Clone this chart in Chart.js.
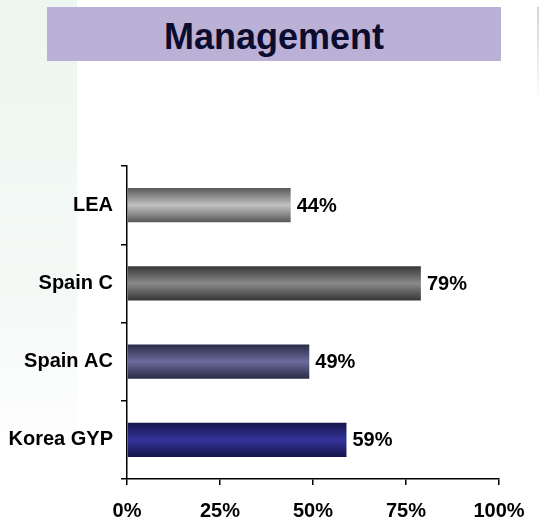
<!DOCTYPE html>
<html>
<head>
<meta charset="utf-8">
<script src="https://cdn.jsdelivr.net/npm/chart.js@4"></script>
<style>
  html, body { margin: 0; padding: 0; background: #fff; }
  #wrap { position: relative; width: 539px; height: 527px; overflow: hidden; }
  #strip { position: absolute; left: 0; top: 0; width: 77px; height: 527px;
    background: linear-gradient(#eef6f1, #f4f9f6 55%, #ffffff 88%); }
  #titleBox { position: absolute; left: 47px; top: 7px; width: 454px; height: 51px; padding-top: 3px;
    background: #bbb0d6; color: #0c0c2e; font: bold 36px "Liberation Sans", Arial, sans-serif;
    text-align: center; line-height: 54px; }
  #edge { position: absolute; left: 537px; top: 7px; width: 2px; height: 95px;
    background: linear-gradient(#d8d2cc, #ffffff); }
  canvas { position: absolute; left: 0; top: 0; }
</style>
</head>
<body>
<div id="wrap">
  <div id="strip"></div>
  <div id="titleBox">Management</div>
  <div id="edge"></div>
  <canvas id="chart" width="539" height="527"></canvas>
</div>
<script>
document.addEventListener("DOMContentLoaded", () => {
    // --- data ---
    const categories = ['LEA', 'Spain C', 'Spain AC', 'Korea GYP'];
    const values = [44, 79, 49, 59];
    const xTicks = [0, 25, 50, 75, 100];

    // gradient stops per bar: [edge, middle]
    const barShades = [
        ['#585858', '#c2c2c2'],
        ['#363636', '#8a8a8a'],
        ['#2a2a46', '#6a6a9c'],
        ['#14144a', '#34349a']
    ];
    const barPct = 0.44;
    const font = '"Liberation Sans", Arial, sans-serif';

    function barFill(ctx){
        const chart = ctx.chart;
        const y = chart.scales.y;
        const shade = barShades[ctx.dataIndex] || barShades[0];
        if (!y || ctx.type !== 'data') return shade[1];
        const mid = y.getPixelForValue(ctx.dataIndex);
        const half = (y.height / categories.length) * barPct / 2;
        if (!isFinite(mid) || !isFinite(half) || half <= 0) return shade[1];
        const g = chart.ctx.createLinearGradient(0, mid - half, 0, mid + half);
        g.addColorStop(0, shade[0]);
        g.addColorStop(0.5, shade[1]);
        g.addColorStop(1, shade[0]);
        return g;
    }

    // value labels at the end of each bar
    const valueLabels = {
        id: 'valueLabels',
        afterDatasetsDraw(chart){
            const c = chart.ctx;
            const meta = chart.getDatasetMeta(0);
            c.save();
            c.font = 'bold 20px ' + font;
            c.fillStyle = '#000';
            c.textAlign = 'left';
            c.textBaseline = 'middle';
            meta.data.forEach((bar, i) => {
                c.fillText(values[i] + '%', bar.x + 6, bar.y + 1);
            });
            c.restore();
        }
    };

    new Chart(document.getElementById('chart'), {
        type: 'bar',
        data: {
            labels: categories,
            datasets: [{
                data: values,
                backgroundColor: barFill,
                borderWidth: 0,
                categoryPercentage: 1,
                barPercentage: barPct
            }]
        },
        options: {
            indexAxis: 'y',
            responsive: false,
            animation: false,
            layout: { padding: { left: 0, right: 40, top: 166, bottom: 0 } },
            plugins: { legend: { display: false }, tooltip: { enabled: false } },
            scales: {
                x: {
                    min: 0, max: 100,
                    afterBuildTicks: s => { s.ticks = xTicks.map(v => ({ value: v })); },
                    afterFit: s => { s.height = 48; },
                    ticks: {
                        callback: v => v + '%',
                        color: '#000',
                        font: { family: font, size: 20, weight: 'bold' },
                        padding: 14,
                        maxRotation: 0
                    },
                    grid: { drawOnChartArea: false, drawTicks: true, tickLength: 6, color: '#000', lineWidth: 1.5 },
                    border: { display: true, color: '#000', width: 1.5 }
                },
                y: {
                    afterFit: s => { s.width = 127; },
                    ticks: {
                        color: '#000',
                        font: { family: font, size: 20, weight: 'bold' },
                        padding: 8
                    },
                    grid: { offset: true, drawOnChartArea: false, drawTicks: true, tickLength: 6, color: '#000', lineWidth: 1.5 },
                    border: { display: true, color: '#000', width: 1.5 }
                }
            }
        },
        plugins: [valueLabels]
    });
});
</script>
</body>
</html>
